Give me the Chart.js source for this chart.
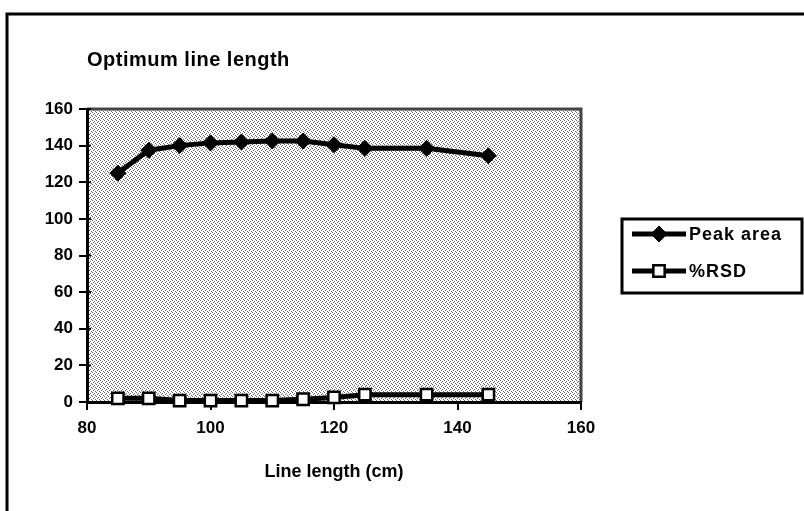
<!DOCTYPE html>
<html>
<head>
<meta charset="utf-8">
<script src="https://cdn.jsdelivr.net/npm/chart.js@4.4.1/dist/chart.umd.min.js"></script>
<style>
  html, body { margin: 0; padding: 0; background: #fff; }
  #wrap { width: 804px; height: 511px; }
</style>
</head>
<body>
<div id="wrap"><canvas id="lineChart" width="804" height="511"></canvas></div>
<script>
// values
const lineLength = [85, 90, 95, 100, 105, 110, 115, 120, 125, 135, 145];
const peakArea = [125, 137.5, 140, 141.5, 142, 142.5, 142.5, 140.5, 138.5, 138.5, 134.5];
const rsd = [2, 2, 0.8, 0.8, 0.8, 0.8, 1.5, 2.5, 4, 4, 4];
const xTicks = [80, 100, 120, 140, 160];
const yTicks = [0, 20, 40, 60, 80, 100, 120, 140, 160];

const FONT = "'Liberation Sans', Arial, sans-serif";

// stippled grey fill for the plot area (scattered dots, no stripes)
function makeStipple() {
  const c = document.createElement('canvas');
  c.width = 4; c.height = 4;
  const g = c.getContext('2d');
  g.fillStyle = '#fff';
  g.fillRect(0, 0, 4, 4);
  g.fillStyle = '#6a6a6a';
  g.fillRect(0, 0, 1, 1);
  g.fillRect(2, 1, 1, 1);
  g.fillRect(1, 2, 1, 1);
  g.fillRect(3, 3, 1, 1);
  return g.createPattern(c, 'repeat');
}

const framePlugin = {
  id: 'frame',
  beforeDraw(chart) {
    const { ctx, chartArea: a } = chart;
    ctx.save();
    ctx.fillStyle = '#fff';
    ctx.fillRect(0, 0, chart.width, chart.height);
    // outer frame of the figure
    ctx.strokeStyle = '#000';
    ctx.lineWidth = 3;
    ctx.beginPath();
    ctx.moveTo(7, chart.height + 2);
    ctx.lineTo(7, 14);
    ctx.lineTo(chart.width + 2, 14);
    ctx.stroke();
    // plot area
    ctx.fillStyle = makeStipple();
    ctx.fillRect(a.left, a.top, a.right - a.left, a.bottom - a.top);
    ctx.strokeStyle = '#444';
    ctx.lineWidth = 3;
    ctx.beginPath();
    ctx.moveTo(a.left, a.top);
    ctx.lineTo(a.right, a.top);
    ctx.lineTo(a.right, a.bottom);
    ctx.stroke();
    ctx.restore();
  },
  beforeDatasetsDraw(chart) {
    // small tick stubs on the inner side of the value axis
    const { ctx, chartArea: a } = chart;
    const ys = chart.scales.y;
    ctx.save();
    ctx.strokeStyle = '#000';
    ctx.lineWidth = 2;
    yTicks.forEach(v => {
      const py = ys.getPixelForValue(v);
      ctx.beginPath();
      ctx.moveTo(a.left, py);
      ctx.lineTo(a.left + 4, py);
      ctx.stroke();
    });
    ctx.restore();
  },
  afterDraw(chart) {
    const { ctx } = chart;
    ctx.save();
    ctx.fillStyle = '#000';
    ctx.textBaseline = 'alphabetic';
    ctx.letterSpacing = '0.5px';
    ctx.font = 'bold 20px ' + FONT;
    ctx.fillText('Optimum line length', 87, 66);

    // legend box
    ctx.strokeStyle = '#000';
    ctx.lineWidth = 3;
    ctx.strokeRect(622, 219, 180, 74);
    const rows = [234, 271];
    ctx.font = 'bold 18px ' + FONT;
    ctx.letterSpacing = '1px';
    ctx.textBaseline = 'middle';
    chart.data.datasets.forEach((ds, i) => {
      const y = rows[i];
      ctx.strokeStyle = '#000';
      ctx.lineWidth = ds.borderWidth;
      ctx.beginPath();
      ctx.moveTo(632, y);
      ctx.lineTo(686, y);
      ctx.stroke();
      ctx.fillStyle = ds.pointBackgroundColor;
      ctx.strokeStyle = ds.pointBorderColor;
      ctx.lineWidth = ds.pointBorderWidth;
      Chart.helpers.drawPoint(ctx, { pointStyle: ds.pointStyle, radius: ds.pointRadius, borderWidth: ds.pointBorderWidth }, 659, y);
      ctx.fillStyle = '#000';
      ctx.fillText(ds.label, 689, y + 1);
    });
    ctx.restore();
  }
};

const tickFont = { family: FONT, size: 17, weight: 'bold' };

const ctx = document.getElementById('lineChart').getContext('2d');

const myChart = new Chart(ctx, {
  type: 'line',
  data: {
    datasets: [{
      label: 'Peak area',
      data: lineLength.map((x, i) => ({ x: x, y: peakArea[i] })),
      borderColor: '#000',
      borderWidth: 5,
      pointStyle: 'rectRot',
      pointRadius: 8,
      pointBackgroundColor: '#000',
      pointBorderColor: '#000',
      pointBorderWidth: 1,
      tension: 0,
      clip: false
    }, {
      label: '%RSD',
      data: lineLength.map((x, i) => ({ x: x, y: rsd[i] })),
      borderColor: '#000',
      borderWidth: 5,
      pointStyle: 'rect',
      pointRadius: 8,
      pointBackgroundColor: '#fff',
      pointBorderColor: '#000',
      pointBorderWidth: 2.5,
      tension: 0,
      clip: false
    }]
  },
  options: {
    responsive: false,
    animation: false,
    layout: { padding: { top: 109, right: 223, left: 0, bottom: 0 } },
    plugins: {
      legend: { display: false },
      title: { display: false },
      tooltip: { enabled: false }
    },
    scales: {
      x: {
        type: 'linear',
        min: 80,
        max: 160,
        afterBuildTicks: s => { s.ticks = xTicks.map(v => ({ value: v })); },
        afterFit: s => { s.height = 109; },
        grid: { drawOnChartArea: false, drawTicks: true, tickLength: 8, color: '#000', lineWidth: 2 },
        border: { display: true, color: '#000', width: 3 },
        ticks: { color: '#000', font: tickFont, padding: 8, maxRotation: 0 },
        title: {
          display: true,
          text: 'Line length (cm)',
          color: '#000',
          font: { family: FONT, size: 18, weight: 'bold' },
          padding: { top: 0, bottom: 28 }
        }
      },
      y: {
        min: 0,
        max: 160,
        afterBuildTicks: s => { s.ticks = yTicks.map(v => ({ value: v })); },
        afterFit: s => { s.width = 87; },
        grid: { drawOnChartArea: false, drawTicks: true, tickLength: 8, color: '#000', lineWidth: 2 },
        border: { display: true, color: '#000', width: 3 },
        ticks: { color: '#000', font: tickFont, padding: 6 }
      }
    }
  },
  plugins: [framePlugin]
});
</script>
</body>
</html>
